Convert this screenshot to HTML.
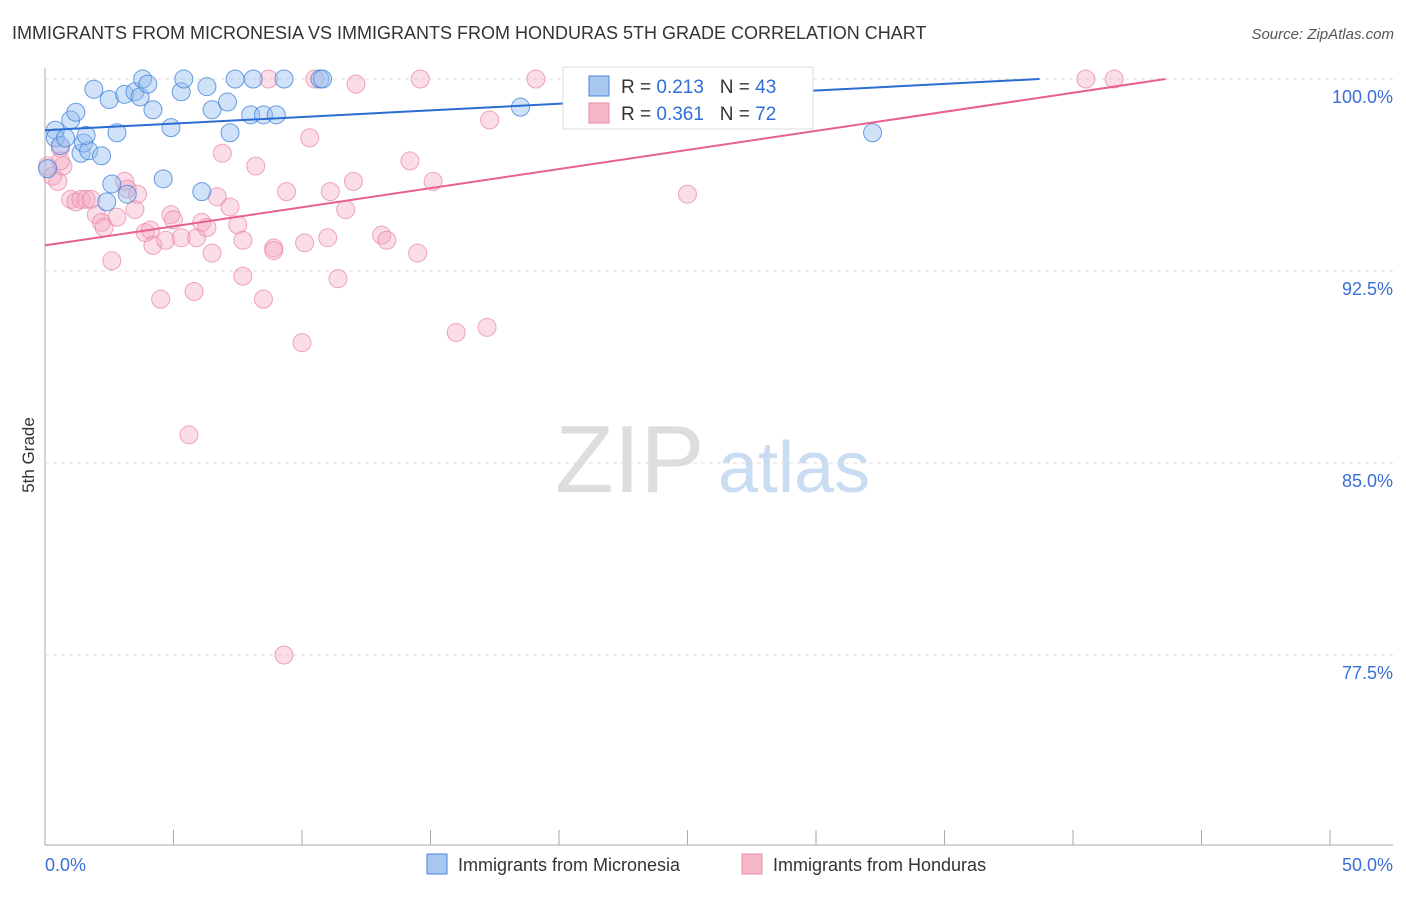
<!DOCTYPE html>
<html><head><meta charset="utf-8"><style>
body{margin:0;background:#fff;font-family:"Liberation Sans",sans-serif;}
svg text{font-family:"Liberation Sans",sans-serif;}
</style></head><body>
<svg id="chart" width="1406" height="892">
<text x="12" y="39" font-size="18" fill="#333">IMMIGRANTS FROM MICRONESIA VS IMMIGRANTS FROM HONDURAS 5TH GRADE CORRELATION CHART</text>
<text x="1394" y="39" font-size="15" fill="#555" text-anchor="end" font-style="italic">Source: ZipAtlas.com</text>
<text x="34" y="455" font-size="17" fill="#333" text-anchor="middle" transform="rotate(-90 34 455)">5th Grade</text>
<text x="555" y="492" font-size="96" fill="#ddd" font-family="Liberation Serif">ZIP</text>
<text x="718" y="492" font-size="72" fill="#c8dcf2">atlas</text>
<g id="grid"></g><g id="pts"></g><g id="lines"></g>
<g>
<rect x="563" y="67" width="250" height="62" fill="#fff" stroke="#ddd"/>
<rect x="589" y="76" width="20" height="20" fill="#a8c8f0" stroke="#4a86d8"/>
<text x="621" y="93" font-size="19" fill="#333">R = <tspan fill="#2f6fd6">0.213</tspan>&#160;&#160;&#160;N = <tspan fill="#2f6fd6">43</tspan></text>
<rect x="589" y="103" width="20" height="20" fill="#f5b8c8" stroke="#e88aa6"/>
<text x="621" y="120" font-size="19" fill="#333">R = <tspan fill="#2f6fd6">0.361</tspan>&#160;&#160;&#160;N = <tspan fill="#2f6fd6">72</tspan></text>
</g>
<rect x="427" y="854" width="20" height="20" fill="#a8c8f0" stroke="#4a86d8"/>
<text x="458" y="871" font-size="18" fill="#333">Immigrants from Micronesia</text>
<rect x="742" y="854" width="20" height="20" fill="#f5b8c8" stroke="#e88aa6"/>
<text x="773" y="871" font-size="18" fill="#333">Immigrants from Honduras</text>
</svg>
<script>
const yTicks=[100,92.5,85,77.5];
const yTickLabels=["100.0%","92.5%","85.0%","77.5%"];
const xTickLabels=["0.0%","50.0%"];
const blueX=[0.4,0.4,0.6,0.8,1,1.2,1.4,1.5,1.7,1.9,1.6,2.2,2.5,2.6,2.4,2.8,3.1,3.2,3.5,3.7,3.8,4,4.2,4.6,4.9,5.3,5.4,6.1,6.3,6.5,7.1,7.2,7.4,8.1,8,8.5,9,9.3,10.7,10.8,18.5,32.2,0.1];
const blueY=[98,97.7,97.4,97.7,98.4,98.7,97.1,97.5,97.2,99.6,97.8,97,99.2,95.9,95.2,97.9,99.4,95.5,99.5,99.3,100,99.8,98.8,96.1,98.1,99.5,100,95.6,99.7,98.8,99.1,97.9,100,100,98.6,98.6,98.6,100,100,100,98.9,97.9,96.5];
const pinkX=[0.1,0.3,0.5,0.6,0.7,1,1.2,1.4,1.6,1.8,2,2.2,2.3,2.6,2.8,3.1,3.2,3.5,3.6,3.9,4.1,4.2,4.5,4.7,4.9,5,5.3,5.6,5.8,5.9,6.1,6.3,6.5,6.7,6.9,7.2,7.5,7.7,7.7,8.2,8.5,8.7,8.9,8.9,9.3,9.4,10,10.1,10.3,10.5,11,11.1,11.4,11.7,12,12.1,13.1,13.3,14.2,14.5,14.6,15.1,16,17.2,17.3,19.1,23.9,25,28.2,40.5,41.6,0.6];
const pinkY=[96.6,96.2,96,97.3,96.6,95.3,95.2,95.3,95.3,95.3,94.7,94.4,94.2,92.9,94.6,96,95.7,94.9,95.5,94,94.1,93.5,91.4,93.7,94.7,94.5,93.8,86.1,91.7,93.8,94.4,94.2,93.2,95.4,97.1,95,94.3,92.3,93.7,96.6,91.4,100,93.4,93.3,77.5,95.6,89.7,93.6,97.7,100,93.8,95.6,92.2,94.9,96,99.8,93.9,93.7,96.8,93.2,100,96,90.1,90.3,98.4,100,100,95.5,100,100,100,96.8];
const blueLine=[[0,98],[38.7,100]];
const pinkLine=[[0,93.5],[43.6,100]];
const NS="http://www.w3.org/2000/svg";
const X0=45,X1=1330,Y100=79,PXPER=25.6;
const sx=v=>X0+(X1-X0)*v/50;
const sy=v=>Y100+(100-v)*PXPER;
function mk(t,a,p){const e=document.createElementNS(NS,t);for(const k in a)e.setAttribute(k,a[k]);p.appendChild(e);return e;}
const grid=document.getElementById('grid');
let ax=mk('line',{x1:45,y1:68,x2:45,y2:845,stroke:'#aaa'},grid);


let bx=mk('line',{x1:45,y1:845,x2:1393,y2:845,stroke:'#aaa'},grid);


yTicks.forEach((t,i)=>{
 const g=mk('line',{x1:45,y1:sy(t),x2:1393,y2:sy(t),stroke:'#ddd','stroke-dasharray':'4,4'},grid);
 
 
 const l=mk('text',{x:1393,y:sy(t)+24,'font-size':18,fill:'#3a6fd8','text-anchor':'end'},grid);
 l.textContent=yTickLabels[i];
 
 
});
for(let i=0;i<=10;i++){
 const t=mk('line',{x1:sx(i*5),y1:830,x2:sx(i*5),y2:845,stroke:'#aaa'},grid);
 
 
}
[[0,'start',45],[1,'end',1393]].forEach(([i,a,x])=>{
 const l=mk('text',{x:x,y:871,'font-size':18,fill:'#3a6fd8','text-anchor':a},grid);
 l.textContent=xTickLabels[i];
 
 
});
const pts=document.getElementById('pts');
pinkX.forEach((v,i)=>{
 const c=mk('circle',{cx:sx(v),cy:sy(pinkY[i]),r:9,fill:'rgba(245,170,195,0.4)',stroke:'rgba(232,130,165,0.7)','stroke-width':1},pts);
 
 
});
blueX.forEach((v,i)=>{
 const c=mk('circle',{cx:sx(v),cy:sy(blueY[i]),r:9,fill:'rgba(150,190,240,0.45)',stroke:'rgba(60,125,215,0.75)','stroke-width':1},pts);
 
 
});
const lines=document.getElementById('lines');
const b=mk('line',{x1:sx(blueLine[0][0]),y1:sy(blueLine[0][1]),x2:sx(blueLine[1][0]),y2:sy(blueLine[1][1]),stroke:'#2a6dd2','stroke-width':2},lines);


const p=mk('line',{x1:sx(pinkLine[0][0]),y1:sy(pinkLine[0][1]),x2:sx(pinkLine[1][0]),y2:sy(pinkLine[1][1]),stroke:'#e8608c','stroke-width':2},lines);


</script>
</body></html>
